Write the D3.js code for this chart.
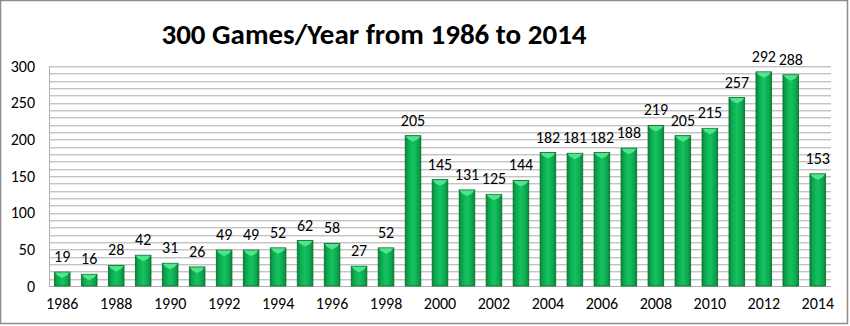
<!DOCTYPE html>
<html>
<head>
<meta charset="utf-8">
<script src="https://cdn.jsdelivr.net/npm/d3@7"></script>
<style>
  html, body { margin: 0; padding: 0; background: #fff; }
  svg { display: block; font-family: Carlito, Lato, "Open Sans", sans-serif; }
</style>
</head>
<body>
<svg id="chart" width="850" height="326"></svg>
<script>
// Games per year
const years = d3.range(1986, 2015).map(String);
const games = [19, 16, 28, 42, 31, 26, 49, 49, 52, 62, 58, 27, 52, 205, 145, 131, 125, 144, 182, 181, 182, 188, 219, 205, 215, 257, 292, 288, 153];
const yTicks = [0, 50, 100, 150, 200, 250, 300];
const xTickLabels = years.filter((d, i) => i % 2 === 0);
const title = "300 Games/Year from 1986 to 2014";

const svg = d3.select("#chart");
const W = 850, H = 326;
const plot = { left: 49, right: 831, top: 66, bottom: 286 };
const labelFont = "Carlito, Lato, sans-serif";

// frame
svg.append("rect").attr("x", 0.5).attr("y", 0.5).attr("width", W - 3).attr("height", H - 3)
  .attr("fill", "#fff").attr("stroke", "#8c8c8c").attr("stroke-width", 1.5);

const x = d3.scaleBand().domain(years).range([plot.left, plot.right]).paddingInner(0.42).paddingOuter(0.2);
const y = d3.scaleLinear().domain([0, 300]).range([plot.bottom, plot.top]);

// gradient for the bars
const defs = svg.append("defs");
const g = defs.append("linearGradient").attr("id", "barGrad").attr("x1", "0").attr("x2", "1").attr("y1", "0").attr("y2", "0");
g.append("stop").attr("offset", "0%").attr("stop-color", "#07873a");
g.append("stop").attr("offset", "20%").attr("stop-color", "#0daa4e");
g.append("stop").attr("offset", "50%").attr("stop-color", "#14c262");
g.append("stop").attr("offset", "80%").attr("stop-color", "#0daa4e");
g.append("stop").attr("offset", "100%").attr("stop-color", "#07873a");

// minor gridlines every 10
const grid = svg.append("g");
grid.selectAll("line.lo").data(d3.range(10, 301, 10)).join("line").attr("class", "lo")
  .attr("x1", plot.left).attr("x2", plot.right)
  .attr("y1", d => Math.round(y(d)) + 0.5).attr("y2", d => Math.round(y(d)) + 0.5)
  .attr("stroke", "#c4c4c4").attr("stroke-width", 1);
grid.selectAll("line.hi").data(d3.range(10, 301, 10)).join("line").attr("class", "hi")
  .attr("x1", plot.left).attr("x2", plot.right)
  .attr("y1", d => Math.round(y(d)) + 1.5).attr("y2", d => Math.round(y(d)) + 1.5)
  .attr("stroke", "#e6e6e6").attr("stroke-width", 1);

// axis lines
svg.append("line").attr("x1", plot.left + 0.5).attr("x2", plot.left + 0.5)
  .attr("y1", plot.top).attr("y2", plot.bottom).attr("stroke", "#b0b0b0");
svg.append("line").attr("x1", plot.left).attr("x2", plot.right)
  .attr("y1", plot.bottom + 0.5).attr("y2", plot.bottom + 0.5).attr("stroke", "#b0b0b0");

// y axis labels
const yAxis = d3.axisLeft(y).tickValues(yTicks).tickSize(0).tickPadding(14);
svg.append("g").attr("transform", `translate(${plot.left},0)`).call(yAxis)
  .call(a => a.select(".domain").remove())
  .call(a => a.selectAll("text").attr("font-size", 16).attr("fill", "#000").attr("font-family", labelFont));

// x axis labels
const xAxis = d3.axisBottom(x).tickValues(xTickLabels).tickSize(0).tickPadding(12);
svg.append("g").attr("transform", `translate(0,${plot.bottom})`).call(xAxis)
  .call(a => a.select(".domain").remove())
  .call(a => a.selectAll("text").attr("font-size", 16).attr("fill", "#000").attr("font-family", labelFont));

// bars
const bars = svg.append("g").selectAll("g").data(years.map((yr, i) => ({ yr, v: games[i] }))).join("g");
bars.append("rect")
  .attr("x", d => x(d.yr)).attr("y", d => y(d.v))
  .attr("width", x.bandwidth()).attr("height", d => y(0) - y(d.v))
  .attr("fill", "url(#barGrad)").attr("stroke", "#076b2c").attr("stroke-width", 0.8);
// bevelled top cap
bars.append("path")
  .attr("d", d => {
    const x0 = x(d.yr), w = x.bandwidth(), t = y(d.v);
    return `M${x0 + 0.5},${t + 0.5} L${x0 + w - 0.5},${t + 0.5} L${x0 + w - 3},${t + 3.5} L${x0 + w / 2},${t + 6} L${x0 + 3},${t + 3.5} Z`;
  })
  .attr("fill", "#4fe58c");

// value labels
bars.append("text")
  .attr("x", d => x(d.yr) + x.bandwidth() / 2).attr("y", d => y(d.v) - 10)
  .attr("text-anchor", "middle").attr("font-size", 16).attr("fill", "#000")
  .attr("font-family", labelFont)
  .text(d => d.v);

// title
svg.append("text").attr("x", 374).attr("y", 44).attr("text-anchor", "middle")
  .attr("font-size", 29).attr("font-weight", "bold").attr("fill", "#000")
  .attr("font-family", labelFont)
  .text(title);
</script>
</body>
</html>
